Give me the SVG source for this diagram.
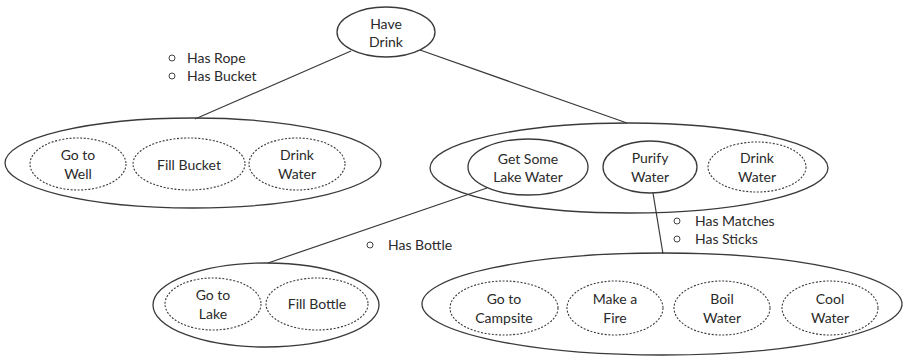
<svg xmlns="http://www.w3.org/2000/svg" width="905" height="358" viewBox="0 0 905 358">
<style>
.s{fill:none;stroke:#3a3a3a;stroke-width:1.3}
.d{fill:none;stroke:#3a3a3a;stroke-width:1.1;stroke-dasharray:2 1.6}
.l{fill:none;stroke:#3a3a3a;stroke-width:1.2}
text{font-family:Lato,"Open Sans","Liberation Sans",sans-serif;font-size:14px;fill:#2a2a2a;text-anchor:middle}
.lab{text-anchor:start}
.b{fill:none;stroke:#444;stroke-width:1}
</style>
<rect width="905" height="358" fill="#fff"/>
<g id="connectors">
<line class="l" x1="351" y1="51" x2="195" y2="119"/>
<line class="l" x1="420" y1="50" x2="627" y2="123"/>
<line class="l" x1="487" y1="188" x2="268" y2="263"/>
<line class="l" x1="653" y1="193" x2="663" y2="254"/>
</g>
<g id="have-drink">
<ellipse class="s" cx="386" cy="32" rx="49" ry="25"/>
<text x="386" y="29">Have</text>
<text x="386" y="47">Drink</text>
</g>
<g id="rope-bucket-labels">
<circle class="b" cx="172" cy="58" r="3"/>
<text class="lab" x="187" y="63">Has Rope</text>
<circle class="b" cx="172" cy="76" r="3"/>
<text class="lab" x="187" y="81">Has Bucket</text>
</g>
<g id="well-plan">
<ellipse class="s" cx="193" cy="163" rx="188" ry="45"/>
</g>
<g id="go-to-well">
<ellipse class="d" cx="78" cy="164" rx="48" ry="26"/>
<text x="78" y="160">Go to</text>
<text x="78" y="179">Well</text>
</g>
<g id="fill-bucket">
<ellipse class="d" cx="189" cy="164" rx="56" ry="26"/>
<text x="189" y="170">Fill Bucket</text>
</g>
<g id="drink-water-1">
<ellipse class="d" cx="297" cy="164" rx="48" ry="26"/>
<text x="297" y="160">Drink</text>
<text x="297" y="179">Water</text>
</g>
<g id="lake-plan">
<ellipse class="s" cx="629" cy="168" rx="199" ry="45"/>
</g>
<g id="get-lake-water">
<ellipse class="s" cx="528" cy="167" rx="60" ry="28"/>
<text x="528" y="164">Get Some</text>
<text x="528" y="182">Lake Water</text>
</g>
<g id="purify-water">
<ellipse class="s" cx="650" cy="167" rx="47" ry="26"/>
<text x="650" y="163">Purify</text>
<text x="650" y="182">Water</text>
</g>
<g id="drink-water-2">
<ellipse class="d" cx="757" cy="167" rx="49" ry="25"/>
<text x="757" y="163">Drink</text>
<text x="757" y="182">Water</text>
</g>
<g id="bottle-label">
<circle class="b" cx="370" cy="245" r="3"/>
<text class="lab" x="388" y="250">Has Bottle</text>
</g>
<g id="matches-sticks-labels">
<circle class="b" cx="677" cy="221" r="3"/>
<text class="lab" x="695" y="226">Has Matches</text>
<circle class="b" cx="677" cy="239" r="3"/>
<text class="lab" x="695" y="244">Has Sticks</text>
</g>
<g id="bottle-plan">
<ellipse class="s" cx="266" cy="305" rx="113" ry="42"/>
</g>
<g id="go-to-lake">
<ellipse class="d" cx="213" cy="304" rx="48" ry="26"/>
<text x="213" y="300">Go to</text>
<text x="213" y="319">Lake</text>
</g>
<g id="fill-bottle">
<ellipse class="d" cx="317" cy="304" rx="51" ry="26"/>
<text x="317" y="309">Fill Bottle</text>
</g>
<g id="purify-plan">
<ellipse class="s" cx="662" cy="304" rx="240" ry="51"/>
</g>
<g id="go-to-campsite">
<ellipse class="d" cx="504" cy="308" rx="54" ry="27"/>
<text x="504" y="304">Go to</text>
<text x="504" y="323">Campsite</text>
</g>
<g id="make-fire">
<ellipse class="d" cx="615" cy="308" rx="48" ry="27"/>
<text x="615" y="304">Make a</text>
<text x="615" y="323">Fire</text>
</g>
<g id="boil-water">
<ellipse class="d" cx="722" cy="308" rx="48" ry="27"/>
<text x="722" y="304">Boil</text>
<text x="722" y="323">Water</text>
</g>
<g id="cool-water">
<ellipse class="d" cx="830" cy="308" rx="48" ry="27"/>
<text x="830" y="304">Cool</text>
<text x="830" y="323">Water</text>
</g>
</svg>
